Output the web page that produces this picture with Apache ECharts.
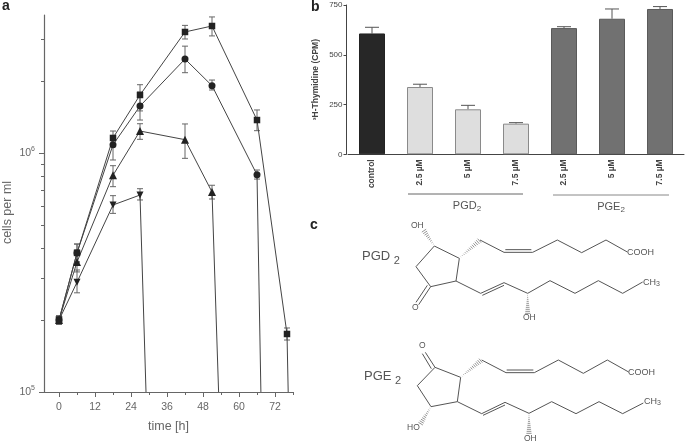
<!DOCTYPE html>
<html>
<head>
<meta charset="utf-8">
<style>
  html, body { margin: 0; padding: 0; background: #fff; }
  #main { width: 685px; height: 442px; }
</style>
<script src="https://cdn.jsdelivr.net/npm/echarts@6/dist/echarts.min.js"></script>
</head>
<body>
<div id="main"></div>
<script>
// panel a: cells per ml over time, last point of each line is where it hits the axis
const squareTimes = [0, 6, 18, 27, 42, 51, 66, 76, 76.4];
const squareCells = [2e5, 3.82e5, 1.156e6, 1.749e6, 3.21e6, 3.4e6, 1.374e6, 1.749e5, 1e5];
const squareLow = [1.92e5, 3.5e5, 1.08e6, 1.5e6, 3.0e6, 3.09e6, 1.24e6, 1.65e5];
const squareHigh = [2.08e5, 4.16e5, 1.236e6, 1.931e6, 3.42e6, 3.71e6, 1.514e6, 1.853e5];

const circleTimes = [0, 6, 18, 27, 42, 51, 66, 67.3];
const circleCells = [2e5, 3.82e5, 1.083e6, 1.572e6, 2.473e6, 1.913e6, 8.11e5, 1e5];
const circleLow = [1.92e5, 3.5e5, 9.35e5, 1.374e6, 2.168e6, 1.835e6, 7.78e5];
const circleHigh = [2.08e5, 4.16e5, 1.145e6, 1.8e6, 2.8e6, 2.02e6, 8.49e5];

const triangleTimes = [0, 6, 18, 27, 42, 51, 53.2];
const triangleCells = [2e5, 3.5e5, 8.07e5, 1.236e6, 1.137e6, 6.87e5, 1e5];
const triangleLow = [1.92e5, 3.18e5, 7.23e5, 1.141e6, 9.5e5, 6.42e5];
const triangleHigh = [2.08e5, 3.93e5, 8.85e5, 1.326e6, 1.323e6, 7.33e5];

const invertedTimes = [0, 6, 18, 27, 29];
const invertedCells = [2e5, 2.88e5, 6.06e5, 6.67e5, 1e5];
const invertedLow = [1.92e5, 2.6e5, 5.59e5, 6.36e5];
const invertedHigh = [2.08e5, 3.24e5, 6.63e5, 7.09e5];

const hourTicks = [0, 12, 24, 36, 48, 60, 72];
const hourMinorTicks = [6, 18, 30, 42, 54, 66, 78];
const cellTicks = [1e5, 1e6];
const cellMinorTicks = [2e5, 3e5, 4e5, 5e5, 6e5, 7e5, 8e5, 9e5, 2e6, 3e6];

// panel b: thymidine uptake
const treatments = ['control', '2.5 µM', '5 µM', '7.5 µM', '2.5 µM', '5 µM', '7.5 µM'];
const cpm = [607, 338, 226, 154, 634, 681, 730];
const cpmHigh = [638, 352, 246, 159, 641, 730, 742];

const INK = '#666';
const LINE = '#444';
const FONT = '"Liberation Sans", Arial, sans-serif';

const zip = (xs, ys) => xs.map((x, i) => [x, ys[i]]);

function cellSeries(times, cells, symbol, rotate, size) {
  const data = zip(times, cells).map((p, i) =>
    i === times.length - 1 ? { value: p, symbol: 'none' } : { value: p });
  return {
    type: 'line',
    xAxisIndex: 0,
    yAxisIndex: 0,
    data,
    symbol,
    symbolSize: size,
    symbolRotate: rotate,
    showSymbol: true,
    animation: false,
    z: 3,
    lineStyle: { color: LINE, width: 1 },
    itemStyle: { color: '#222', opacity: 1 }
  };
}

function whiskers(times, low, high) {
  return {
    type: 'custom',
    xAxisIndex: 0,
    yAxisIndex: 0,
    data: low.map((l, i) => [times[i], l, high[i]]),
    encode: { x: 0, y: [1, 2] },
    silent: true,
    animation: false,
    z: 2,
    renderItem(params, api) {
      const lo = api.coord([api.value(0), api.value(1)]);
      const hi = api.coord([api.value(0), api.value(2)]);
      const style = { stroke: '#666', lineWidth: 1, fill: 'none' };
      return {
        type: 'group',
        children: [
          { type: 'line', shape: { x1: lo[0], y1: lo[1], x2: hi[0], y2: hi[1] }, style },
          { type: 'line', shape: { x1: lo[0] - 3, y1: lo[1], x2: lo[0] + 3, y2: lo[1] }, style },
          { type: 'line', shape: { x1: hi[0] - 3, y1: hi[1], x2: hi[0] + 3, y2: hi[1] }, style }
        ]
      };
    }
  };
}

function bonds(ox, oy, paths) {
  return paths.map((pts) => ({
    type: 'polyline',
    silent: true,
    shape: { points: pts.map((p) => [ox + p[0] / 3, oy + p[1] / 3]) },
    style: { stroke: '#555', lineWidth: 1, fill: 'none' }
  }));
}

function hashed(ox, oy, from, to) {
  const out = [];
  const ax = ox + from[0] / 3, ay = oy + from[1] / 3;
  const bx = ox + to[0] / 3, by = oy + to[1] / 3;
  const len = Math.hypot(bx - ax, by - ay);
  const nx = -(by - ay) / len, ny = (bx - ax) / len;
  const steps = Math.round(len / 2);
  for (let i = 1; i <= steps; i++) {
    const t = i / steps;
    const w = 2.6 * t;
    const cx = ax + (bx - ax) * t, cy = ay + (by - ay) * t;
    out.push({
      type: 'line',
      silent: true,
      shape: { x1: cx - nx * w, y1: cy - ny * w, x2: cx + nx * w, y2: cy + ny * w },
      style: { stroke: '#666', lineWidth: 0.7 }
    });
  }
  return out;
}

function label(x, y, text, size, opts) {
  return {
    type: 'text',
    silent: true,
    x,
    y,
    style: Object.assign({
      text,
      font: (opts && opts.bold ? 'bold ' : '') + size + 'px ' + FONT,
      fill: (opts && opts.fill) || '#555',
      align: (opts && opts.align) || 'left',
      verticalAlign: 'middle',
      rich: opts && opts.rich
    })
  };
}

const subRich = (size, drop) => ({
  s: { fontSize: size, fontFamily: FONT, fill: '#555', padding: [drop, 0, 0, 0] }
});

const pgd = [].concat(
  bonds(300, 210, [
    [[403, 108], [478, 145], [468, 213], [392, 230], [348, 170], [403, 108]],
    [[392, 230], [356, 284]],
    [[382, 226], [348, 277]],
    [[540, 90], [612, 127], [698, 127], [772, 90], [845, 128], [918, 90], [982, 126]],
    [[616, 119], [694, 119]],
    [[468, 213], [542, 250], [612, 218], [683, 250], [750, 212], [825, 250], [895, 212], [968, 250], [1028, 216]],
    [[547, 256], [612, 226]]
  ]),
  hashed(300, 210, [403, 108], [372, 62]),
  hashed(300, 210, [478, 145], [538, 92]),
  hashed(300, 210, [683, 250], [683, 310])
);

const pge = [].concat(
  bonds(300, 325, [
    [[405, 127], [482, 157], [472, 230], [393, 245], [352, 182], [405, 127]],
    [[405, 127], [376, 82]],
    [[394, 131], [367, 86]],
    [[545, 105], [618, 143], [703, 143], [775, 105], [850, 145], [922, 105], [986, 141]],
    [[620, 135], [700, 135]],
    [[472, 230], [545, 266], [615, 232], [687, 265], [755, 230], [828, 266], [897, 230], [968, 266], [1030, 234]],
    [[549, 271], [615, 240]]
  ]),
  hashed(300, 325, [393, 245], [362, 296]),
  hashed(300, 325, [482, 157], [542, 107]),
  hashed(300, 325, [687, 265], [687, 325])
);

const annotations = [].concat(
  [
    label(2, 6, 'a', 14, { bold: true, fill: '#222' }),
    label(311, 7, 'b', 14, { bold: true, fill: '#222' }),
    label(310, 225, 'c', 14, { bold: true, fill: '#222' }),
    // brackets under the bars
    { type: 'line', silent: true, shape: { x1: 408, y1: 194, x2: 523, y2: 194 }, style: { stroke: '#666', lineWidth: 1 } },
    { type: 'line', silent: true, shape: { x1: 553, y1: 195, x2: 669, y2: 195 }, style: { stroke: '#888', lineWidth: 1 } },
    label(467, 206, 'PGD{s|2}', 11, { align: 'center', rich: subRich(8, 5) }),
    label(611, 207, 'PGE{s|2}', 11, { align: 'center', rich: subRich(8, 5) }),
    label(362, 256, 'PGD {s|2}', 13, { rich: subRich(11, 9) }),
    label(364, 376, 'PGE {s|2}', 13, { rich: subRich(11, 9) }),
    label(411, 226, 'OH', 8.5),
    label(412, 308, 'O', 8.5),
    label(627, 253, 'COOH', 9),
    label(643, 283, 'CH', 9),
    label(656, 284, '3', 7),
    label(523, 318, 'OH', 8.5),
    label(407, 428, 'HO', 8.5),
    label(419, 346, 'O', 8.5),
    label(628, 373, 'COOH', 9),
    label(644, 402, 'CH', 9),
    label(657, 403, '3', 7),
    label(524, 439, 'OH', 8.5)
  ],
  pgd,
  pge
);

const chart = echarts.init(document.getElementById('main'), null, { renderer: 'canvas' });

chart.setOption({
  animation: false,
  backgroundColor: '#fff',
  textStyle: { fontFamily: FONT },
  grid: [
    { left: 43, top: 15, width: 250, height: 377 },
    { left: 348, top: 5, width: 336, height: 149.3 }
  ],
  xAxis: [
    {
      type: 'value',
      gridIndex: 0,
      min: -5,
      max: 78,
      name: 'time [h]',
      nameLocation: 'middle',
      nameGap: 28,
      nameTextStyle: { color: INK, fontSize: 12.5 },
      splitLine: { show: false },
      axisLine: { onZero: false, lineStyle: { color: '#666' } },
      axisTick: { length: 5, lineStyle: { color: '#666' }, customValues: hourTicks },
      axisLabel: { color: INK, fontSize: 10.5, margin: 9.5, customValues: hourTicks }
    },
    {
      type: 'value',
      gridIndex: 0,
      min: -5,
      max: 78,
      position: 'bottom',
      splitLine: { show: false },
      axisLine: { show: false, onZero: false },
      axisTick: { length: 3, lineStyle: { color: '#666' }, customValues: hourMinorTicks },
      axisLabel: { show: false }
    },
    {
      type: 'category',
      gridIndex: 1,
      data: treatments,
      axisLine: { lineStyle: { color: LINE } },
      axisTick: { show: false },
      axisLabel: { color: '#444', fontSize: 8.5, fontWeight: 'bold', rotate: 90, margin: 5, interval: 0 }
    }
  ],
  yAxis: [
    {
      type: 'log',
      gridIndex: 0,
      logBase: 10,
      min: 1e5,
      max: 3.78e6,
      name: 'cells per ml',
      nameLocation: 'middle',
      nameGap: 30,
      nameTextStyle: { color: INK, fontSize: 12.5, padding: [0, 18, 0, 0] },
      splitLine: { show: false },
      minorTick: { show: false },
      axisLine: { onZero: false, lineStyle: { color: '#666', width: 1.2 } },
      axisTick: { length: 5, lineStyle: { color: '#666' }, customValues: cellTicks },
      axisLabel: {
        color: INK,
        fontSize: 10.5,
        margin: 9,
        customValues: cellTicks,
        formatter: (v) => '10{sup|' + Math.round(Math.log10(v)) + '}',
        rich: { sup: { fontSize: 7, color: INK, padding: [0, 0, 7, 0] } }
      }
    },
    {
      type: 'log',
      gridIndex: 0,
      logBase: 10,
      min: 1e5,
      max: 3.78e6,
      position: 'left',
      splitLine: { show: false },
      axisLine: { show: false, onZero: false },
      axisTick: { length: 3, lineStyle: { color: '#666' }, customValues: cellMinorTicks },
      axisLabel: { show: false }
    },
    {
      type: 'value',
      gridIndex: 1,
      min: 0,
      max: 750,
      interval: 250,
      offset: 1.5,
      name: '³H-Thymidine (CPM)',
      nameLocation: 'middle',
      nameGap: 26,
      nameTextStyle: { color: '#444', fontSize: 8.5, fontWeight: 'bold' },
      splitLine: { show: false },
      axisLine: { show: true, lineStyle: { color: LINE } },
      axisTick: { show: true, length: 3, lineStyle: { color: LINE } },
      axisLabel: { color: '#444', fontSize: 8, margin: 4 }
    }
  ],
  series: [
    whiskers(invertedTimes, invertedLow, invertedHigh),
    whiskers(triangleTimes, triangleLow, triangleHigh),
    whiskers(circleTimes, circleLow, circleHigh),
    whiskers(squareTimes, squareLow, squareHigh),
    cellSeries(invertedTimes, invertedCells, 'triangle', 180, 7),
    cellSeries(triangleTimes, triangleCells, 'triangle', 0, 8),
    cellSeries(circleTimes, circleCells, 'circle', 0, 7),
    cellSeries(squareTimes, squareCells, 'rect', 0, 6.5),
    {
      type: 'bar',
      xAxisIndex: 2,
      yAxisIndex: 2,
      barWidth: 26,
      data: cpm.map((v, i) => ({
        value: v,
        itemStyle: i === 0
          ? { color: '#272727', borderColor: '#222', borderWidth: 1 }
          : i < 4
            ? { color: '#dedede', borderColor: '#8a8a8a', borderWidth: 1 }
            : { color: '#717171', borderColor: '#5a5a5a', borderWidth: 1 }
      }))
    },
    {
      type: 'custom',
      xAxisIndex: 2,
      yAxisIndex: 2,
      data: cpmHigh.map((h, i) => [i, cpm[i], h]),
      encode: { x: 0, y: [1, 2] },
      silent: true,
      renderItem(params, api) {
        const lo = api.coord([api.value(0), api.value(1)]);
        const hi = api.coord([api.value(0), api.value(2)]);
        const style = { stroke: '#555', lineWidth: 1, fill: 'none' };
        return {
          type: 'group',
          children: [
            { type: 'line', shape: { x1: lo[0], y1: lo[1], x2: hi[0], y2: hi[1] }, style },
            { type: 'line', shape: { x1: hi[0] - 7, y1: hi[1], x2: hi[0] + 7, y2: hi[1] }, style }
          ]
        };
      }
    }
  ],
  graphic: annotations
});
</script>
</body>
</html>
